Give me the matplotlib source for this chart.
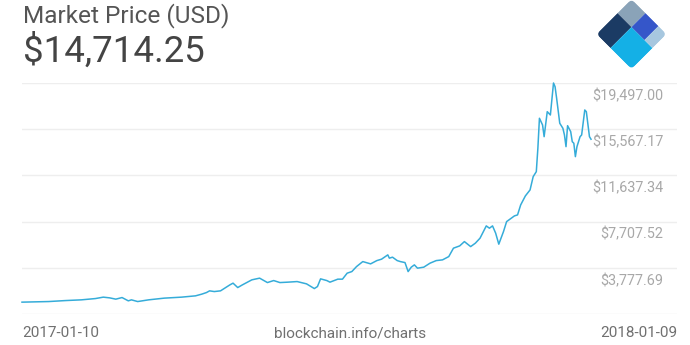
import matplotlib
matplotlib.use("Agg")
from matplotlib import pyplot as plt
from matplotlib.patches import Rectangle, FancyBboxPatch
from matplotlib.transforms import Affine2D
import numpy as np

plt.rcParams['font.family'] = ['Roboto', 'DejaVu Sans']

# days since 2017-01-10 and price (USD)
days = [0, 17, 28, 38, 47, 52, 56, 60, 64, 68, 70, 74, 81, 91, 102, 111, 115, 118, 120, 123,
        127, 133, 135, 138, 141, 147, 149, 152, 157, 161, 165, 170, 176, 182, 187, 189, 191,
        195, 197, 202, 205, 208, 211, 214, 218, 223, 227, 230, 234, 235, 237, 240, 242, 245,
        247, 249, 251, 253, 257, 261, 265, 269, 273, 276, 280, 283, 287, 290, 293, 297, 299,
        301, 303, 305, 308, 310, 313, 315, 317, 319, 322, 325, 327, 329, 330, 331, 333, 334,
        336, 338, 340, 341, 342, 344, 346, 347, 348, 349, 351, 352, 353, 354, 355, 357, 358,
        360, 361, 363, 364]
price = [856, 907, 992, 1052, 1162, 1281, 1222, 1111, 1247, 967, 1052, 907, 1052, 1197, 1281,
         1392, 1537, 1672, 1817, 1757, 1817, 2327, 2472, 2097, 2327, 2752, 2811, 2897, 2522,
         2692, 2522, 2556, 2607, 2412, 2012, 2182, 2837, 2692, 2556, 2811, 2811, 3321, 3457,
         3882, 4307, 4112, 4392, 4511, 4877, 4597, 4681, 4392, 4307, 4222, 3457, 3831, 4027,
         3746, 3831, 4171, 4392, 4452, 4732, 5447, 5642, 6007, 5582, 5871, 6297, 7342, 7147,
         7342, 6721, 5787, 6857, 7707, 7997, 8192, 8277, 9127, 9892, 10402, 11532, 11957,
         13947, 16497, 15927, 14932, 17057, 16777, 19497, 19182, 18197, 16072, 15647, 15077,
         14082, 15867, 15357, 14507, 14372, 13232, 14082, 14932, 15077, 17202, 17057, 14932,
         14714]

y_ticks = [19497.00, 15567.17, 11637.34, 7707.52, 3777.69]
y_step = 3929.83
title = "Market Price (USD)"
current = "$14,714.25"
start_label = "2017-01-10"
end_label = "2018-01-09"
source = "blockchain.info/charts"

W, H = 690, 345
fig = plt.figure(figsize=(W / 100, H / 100), dpi=100)
ax = fig.add_axes([22 / W, (H - 314) / H, (677 - 22) / W, (314 - 83) / H])
ax.set_xlim(0, 419)
ax.set_ylim(y_ticks[-1] - y_step, y_ticks[0])
ax.axis('off')

for v in y_ticks + [y_ticks[-1] - y_step]:
    ax.axhline(v, color='#eeeeee', lw=1, zorder=1)
for v in y_ticks:
    ax.annotate("${:,.2f}".format(v), xy=(0.979, v), xycoords=('axes fraction', 'data'),
                xytext=(0, -9.4), textcoords='offset points', ha='right', va='center',
                fontsize=10.4, color='#a8a8a8')

ax.plot(days, price, color='#35acd9', lw=1.1, zorder=3, clip_on=False)

fig.text(23 / W, 1 - 16 / H, title, fontsize=17.6, color='#555555', va='center', ha='left')
fig.text(23 / W, 1 - 52 / H, current, fontsize=26.4, color='#444444', va='center', ha='left')
fig.text(22 / W, 1 - 333 / H, start_label, fontsize=11, color='#707070', va='center', ha='left')
fig.text(677 / W, 1 - 333 / H, end_label, fontsize=11, color='#707070', va='center', ha='right')
fig.text(350 / W, 1 - 333 / H, source, fontsize=11, color='#707070', va='center', ha='center')

# logo: rotated square split into tiles
lg = fig.add_axes([594 / W, 1 - 71 / H, 75 / W, 72 / H])
lg.set_xlim(-0.75, 0.75)
lg.set_ylim(-1.45, 0.0)
lg.set_aspect('equal')
lg.axis('off')
rot = Affine2D().rotate_deg(225) + lg.transData
clip = FancyBboxPatch((0.04, 0.04), 0.92, 0.92, boxstyle="round,pad=0.04,rounding_size=0.1",
                      transform=rot, fc='none', ec='none')
lg.add_patch(clip)
tiles = [((0, 0), 0.4, 0.4, '#8aa3b8'),
         ((0.4, 0), 0.6, 0.4, '#1b3b64'),
         ((0.4, 0.4), 0.6, 0.6, '#14b0e6'),
         ((0, 0.4), 0.4, 0.37, '#3556c9'),
         ((0, 0.77), 0.4, 0.23, '#a7c7df')]
for (a0, b0), wa, wb, c in tiles:
    r = Rectangle((a0, b0), wa, wb, transform=rot, fc=c, ec='none')
    lg.add_patch(r)
    r.set_clip_path(clip)

fig.savefig("out.png", dpi=100)
